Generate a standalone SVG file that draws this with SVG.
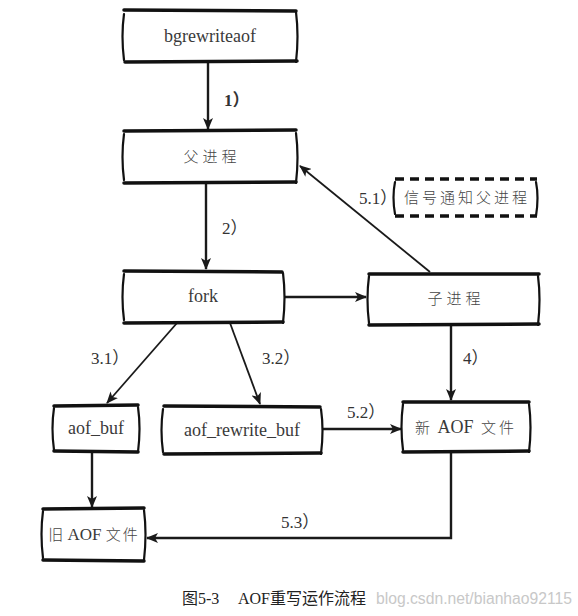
<svg xmlns="http://www.w3.org/2000/svg" width="578" height="616" viewBox="0 0 578 616">
<style>
.bg{fill:#fff;stroke:none}
.hz{fill:none;stroke:#111;stroke-width:3.5;stroke-linecap:round}
.vt{fill:none;stroke:#111;stroke-width:2.2;stroke-linecap:round}
.dash{fill:none;stroke:#111;stroke-width:3.5;stroke-dasharray:9 6}
.t{font-family:'Liberation Serif','Noto Sans CJK SC',serif;font-size:18px;fill:#3a3a3a;text-anchor:middle}
.cj{font-family:'Noto Sans CJK SC',sans-serif;font-size:15px;font-weight:300;fill:#444;text-anchor:middle;letter-spacing:4px}
.cjs{font-family:'Noto Sans CJK SC',sans-serif;font-size:15px;font-weight:300;fill:#444}
.lb{font-family:'Liberation Serif','Noto Sans CJK SC',serif;font-size:17px;fill:#333}
.cn{fill:none;stroke:#1a1a1a;stroke-width:2.4}
.cd{fill:none;stroke:#1a1a1a;stroke-width:1.8}
.cap{font-family:'Liberation Serif','Noto Sans CJK SC',serif;font-size:16px;fill:#222}
.wm{font-family:'Liberation Sans',sans-serif;font-size:16px;fill:#c8c8c8}
</style>
<defs>
<marker id="ah" markerWidth="12" markerHeight="10" refX="11" refY="5" orient="auto" markerUnits="userSpaceOnUse">
<path d="M0,0 L12,5 L0,10 L3,5 z" fill="#1a1a1a"/>
</marker>
</defs>

<g id="connectors">
<line class="cn" x1="208" y1="62" x2="208" y2="129" marker-end="url(#ah)"/>
<line class="cn" x1="206" y1="183" x2="206" y2="269" marker-end="url(#ah)"/>
<line class="cn" x1="284" y1="297" x2="366" y2="297" marker-end="url(#ah)"/>
<line class="cd" x1="430" y1="272" x2="300" y2="166" marker-end="url(#ah)"/>
<line class="cd" x1="177" y1="323" x2="107" y2="403" marker-end="url(#ah)"/>
<line class="cd" x1="230" y1="323" x2="260" y2="404" marker-end="url(#ah)"/>
<line class="cn" x1="451" y1="325" x2="451" y2="400" marker-end="url(#ah)"/>
<line class="cn" x1="323" y1="429" x2="401" y2="429" marker-end="url(#ah)"/>
<line class="cn" x1="92" y1="452" x2="92" y2="507" marker-end="url(#ah)"/>
<polyline class="cn" points="451,452 451,538 147,538" marker-end="url(#ah)"/>
<text class="lb" x="224" y="106" font-weight="bold">1）</text>
<text class="lb" x="222" y="234">2）</text>
<text class="lb" x="359" y="204">5.1）</text>
<text class="lb" x="91" y="364">3.1）</text>
<text class="lb" x="262" y="364">3.2）</text>
<text class="lb" x="463" y="364">4）</text>
<text class="lb" x="347" y="418">5.2）</text>
<text class="lb" x="281" y="528">5.3）</text>
</g>

<g id="n-bgrewriteaof">
<rect class="bg" x="123" y="10" width="174" height="52"/>
<path class="hz" d="M124,10 L296,11"/>
<path class="hz" d="M125,62 L297,61"/>
<path class="vt" d="M124,14 Q121,36 124,60 M296,12 Q299,36 296,62"/>
<text class="t" x="210" y="42">bgrewriteaof</text>
</g>

<g id="n-parent">
<rect class="bg" x="123" y="130" width="174" height="53"/>
<path class="hz" d="M124,131 L296,130"/>
<path class="hz" d="M124,183 L296,182"/>
<path class="vt" d="M124,134 Q121,157 124,180 M296,133 Q299,157 296,183"/>
<text class="cj" x="212" y="162">父进程</text>
</g>

<g id="n-notify">
<rect class="bg" x="393" y="178" width="145" height="39"/>
<path class="dash" d="M395,179 L537,179"/>
<path class="dash" d="M395,216 L537,216"/>
<path class="vt" d="M395,182 Q392,197 395,214 M536,182 Q539,197 536,216"/>
<text class="cj" x="467" y="203" style="letter-spacing:3px">信号通知父进程</text>
</g>

<g id="n-fork">
<rect class="bg" x="123" y="270" width="160" height="53"/>
<path class="hz" d="M124,271 L282,272"/>
<path class="hz" d="M124,323 L283,322"/>
<path class="vt" d="M124,274 Q121,297 124,320 M283,273 Q286,297 283,323"/>
<text class="t" x="203" y="302">fork</text>
</g>

<g id="n-child">
<rect class="bg" x="368" y="273" width="172" height="52"/>
<path class="hz" d="M369,274 L539,274"/>
<path class="hz" d="M369,325 L539,324"/>
<path class="vt" d="M369,276 Q366,299 369,323 M538,276 Q541,299 538,325"/>
<text class="cj" x="456" y="304">子进程</text>
</g>

<g id="n-aofbuf">
<rect class="bg" x="53" y="405" width="86" height="47"/>
<path class="hz" d="M54,406 L138,405"/>
<path class="hz" d="M54,451 L138,452"/>
<path class="vt" d="M54,408 Q51,428 54,450 M138,407 Q141,428 138,452"/>
<text class="t" x="96" y="434">aof_buf</text>
</g>

<g id="n-rewritebuf">
<rect class="bg" x="162" y="406" width="160" height="48"/>
<path class="hz" d="M164,406 L320,407"/>
<path class="hz" d="M164,454 L321,453"/>
<path class="vt" d="M163,409 Q160,430 163,452 M321,409 Q324,430 321,454"/>
<text class="t" x="242" y="436">aof_rewrite_buf</text>
</g>

<g id="n-newaof">
<rect class="bg" x="402" y="401" width="128" height="51"/>
<path class="hz" d="M403,402 L529,402"/>
<path class="hz" d="M403,452 L529,451"/>
<path class="vt" d="M403,404 Q400,427 403,450 M529,404 Q532,427 529,452"/>
<text class="t" x="466" y="433" style="word-spacing:3px"><tspan class="cjs">新</tspan> AOF <tspan class="cjs" style="letter-spacing:3px">文件</tspan></text>
</g>

<g id="n-oldaof">
<rect class="bg" x="42" y="508" width="103" height="52"/>
<path class="hz" d="M43,509 L144,508"/>
<path class="hz" d="M43,560 L144,561"/>
<path class="vt" d="M43,511 Q40,534 43,558 M144,510 Q147,534 144,560"/>
<text class="t" x="94" y="540" style="font-size:17px"><tspan class="cjs">旧</tspan> AOF <tspan class="cjs" style="letter-spacing:2px">文件</tspan></text>
</g>

<g id="caption">
<text class="cap" x="182" y="604">图5-3</text>
<text class="cap" x="238" y="604">AOF重写运作流程</text>
<text class="wm" x="376" y="604" textLength="196" lengthAdjust="spacingAndGlyphs">blog.csdn.net/bianhao92115</text>
</g>
</svg>
